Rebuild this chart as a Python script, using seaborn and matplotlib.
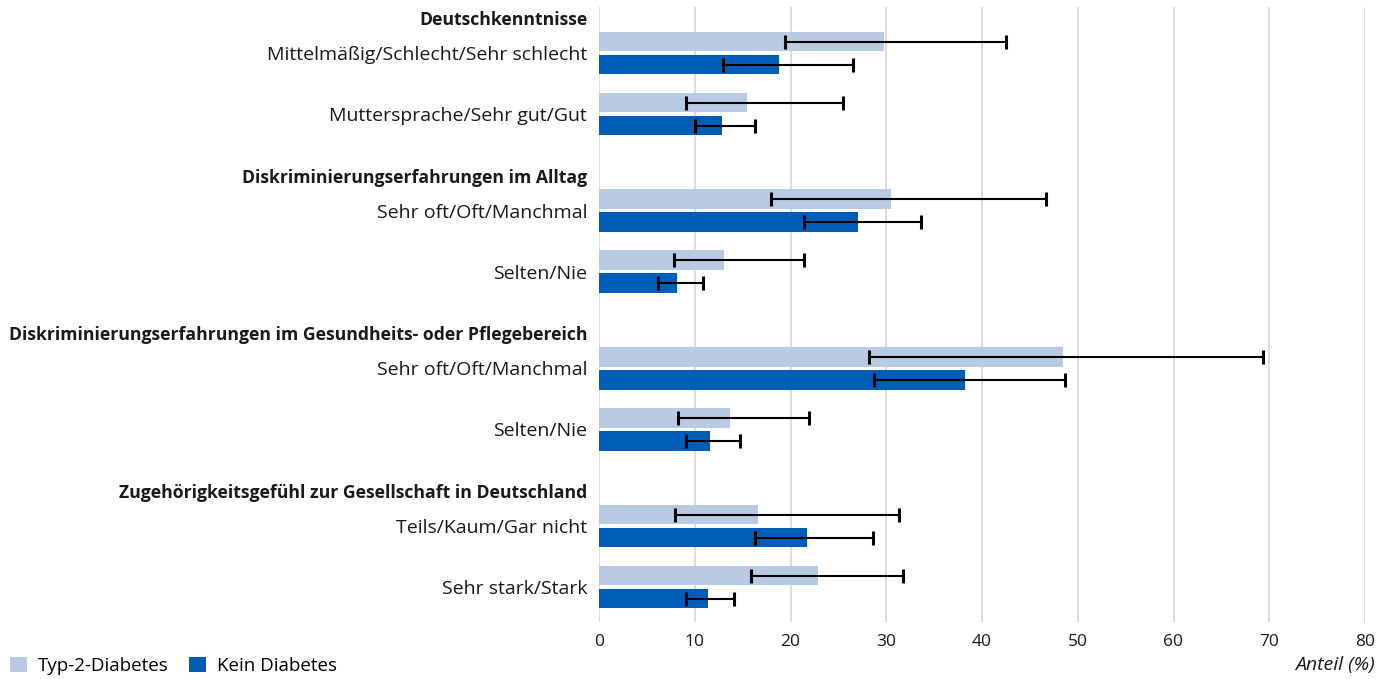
import matplotlib
matplotlib.use("Agg")
import matplotlib.pyplot as plt
import matplotlib.patches as mpatches
import numpy as np
import pandas as pd
import seaborn as sns

# --- data -------------------------------------------------------------
groups = [
    "Deutschkenntnisse",
    "Diskriminierungserfahrungen im Alltag",
    "Diskriminierungserfahrungen im Gesundheits- oder Pflegebereich",
    "Zugehörigkeitsgefühl zur Gesellschaft in Deutschland",
]
answers = [
    ["Mittelmäßig/Schlecht/Sehr schlecht", "Muttersprache/Sehr gut/Gut"],
    ["Sehr oft/Oft/Manchmal", "Selten/Nie"],
    ["Sehr oft/Oft/Manchmal", "Selten/Nie"],
    ["Teils/Kaum/Gar nicht", "Sehr stark/Stark"],
]
series = ["Typ-2-Diabetes", "Kein Diabetes"]

t2d_value = [29.8, 15.5, 30.5, 13.1, 48.5, 13.7, 16.6, 22.9]
t2d_low = [19.4, 9.1, 18.0, 7.8, 28.2, 8.3, 7.9, 15.9]
t2d_high = [42.5, 25.5, 46.7, 21.4, 69.3, 21.9, 31.3, 31.7]

none_value = [18.8, 12.8, 27.1, 8.1, 38.2, 11.6, 21.7, 11.4]
none_low = [12.9, 10.0, 21.4, 6.2, 28.7, 9.1, 16.3, 9.1]
none_high = [26.5, 16.3, 33.6, 10.9, 48.7, 14.7, 28.6, 14.1]

colors = ["#B9CAE3", "#005DB7"]

# --- layout of rows: a header line above each pair of answers ---------
group_step = 2.585
head_to_row = 0.574
header_pos = [g * group_step for g in range(len(groups))]
row_pos = []
row_labels = []
for g, h in enumerate(header_pos):
    for i, lab in enumerate(answers[g]):
        row_pos.append(h + head_to_row + i)
        row_labels.append(lab)

df = pd.DataFrame({
    "pos": row_pos * 2,
    "value": t2d_value + none_value,
    "low": t2d_low + none_low,
    "high": t2d_high + none_high,
    "series": [series[0]] * len(row_pos) + [series[1]] * len(row_pos),
})

# --- figure -----------------------------------------------------------
plt.rcParams["font.family"] = ["Open Sans", "DejaVu Sans"]
fig = plt.figure(figsize=(13.91, 6.79), dpi=100)
W, H = 1391, 679
left, right, top, bottom = 599, 1365, 7, 622
ax = fig.add_axes([left / W, 1 - bottom / H, (right - left) / W, (bottom - top) / H])

sns.barplot(
    data=df, x="value", y="pos", hue="series", hue_order=series,
    orient="h", native_scale=True, dodge=True, width=0.754, gap=0.15,
    palette=colors, errorbar=None, saturation=1, legend=False, ax=ax,
    linewidth=0,
)

# confidence intervals on each bar
for s_idx, s in enumerate(series):
    sub = df[df["series"] == s]
    cont = ax.containers[s_idx]
    for patch in cont:
        yc = patch.get_y() + patch.get_height() / 2
        xv = patch.get_width()
        r = sub.iloc[np.argmin(np.abs(sub["pos"].values - yc))]
        ax.errorbar(
            xv, yc, xerr=[[xv - r["low"]], [r["high"] - xv]],
            fmt="none", ecolor="black", elinewidth=1.5, capsize=5,
            capthick=2.2, zorder=5,
        )

ax.set_xlim(0, 80)
ax.set_ylim(9.90, -0.18)
ax.set_xticks(np.arange(0, 81, 10))
ax.grid(axis="x", color="#DDDDDD", linewidth=1.4)
ax.grid(axis="y", visible=False)
ax.set_axisbelow(True)
for sp in ax.spines.values():
    sp.set_visible(False)

ticks = header_pos + row_pos
labels = groups + row_labels
ax.set_yticks(ticks)
ax.set_yticklabels(labels)
for i, t in enumerate(ax.get_yticklabels()):
    if i < len(groups):
        t.set_fontweight("bold")
        t.set_fontsize(12.7)
    else:
        t.set_fontsize(14)
ax.tick_params(axis="y", length=0, pad=8.5, labelcolor="#1a1a1a")
ax.tick_params(axis="x", length=0, pad=9, labelsize=12.5, labelcolor="#1a1a1a")
ax.set_xlabel("")
ax.set_ylabel("")

fig.text(1375 / W, 1 - 665 / H, "Anteil (%)", ha="right", va="center",
         fontsize=14, style="italic", color="#1a1a1a")

handles = [mpatches.Patch(facecolor=c, edgecolor="none") for c in colors]
fig.legend(handles, series, loc="center left", bbox_to_anchor=(6 / W, 1 - 666 / H),
           ncol=2, frameon=False, fontsize=13.5, handlelength=0.9, handleheight=0.9,
           handletextpad=0.6, columnspacing=1.1, borderaxespad=0, borderpad=0.2)

fig.savefig("out.png", dpi=100)
